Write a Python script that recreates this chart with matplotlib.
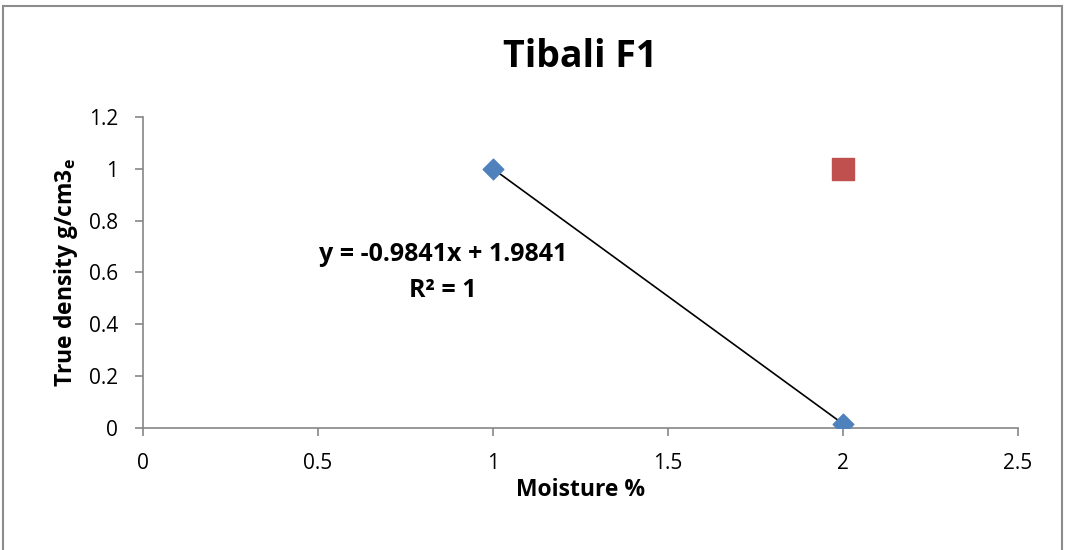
import matplotlib.pyplot as plt
from matplotlib.patches import Rectangle
import numpy as np

# data
moisture = [1, 2]
density = [1.0, 0.0159]
extra_x = [2]
extra_y = [1.0]
slope, intercept = -0.9841, 1.9841

plt.rcParams['font.family'] = ['Open Sans', 'DejaVu Sans']

fig = plt.figure(figsize=(10.65, 5.5), dpi=100)
ax = fig.add_axes([0.1343, 0.2218, 0.8216, 0.5655])

# outer chart frame
fig.patches.append(Rectangle((0.003, -0.05), 0.994, 1.04, transform=fig.transFigure,
                             fill=False, edgecolor='#8c8c8c', linewidth=1.5))

# trendline
tx = np.array([min(moisture), max(moisture)])
ax.plot(tx, slope * tx + intercept, color='black', linewidth=1.2, zorder=2)

ax.scatter(moisture, density, marker='D', s=110, color='#4F81BD', zorder=3)
ax.scatter(extra_x, extra_y, marker='s', s=260, color='#C0504D', zorder=3)

ax.set_xlim(0, 2.5)
ax.set_ylim(0, 1.2)
ax.set_xticks([0, 0.5, 1, 1.5, 2, 2.5])
ax.set_xticklabels(['0', '0.5', '1', '1.5', '2', '2.5'])
ax.set_yticks([0, 0.2, 0.4, 0.6, 0.8, 1, 1.2])
ax.set_yticklabels(['0', '0.2', '0.4', '0.6', '0.8', '1', '1.2'])

for s in ['top', 'right']:
    ax.spines[s].set_visible(False)
for s in ['left', 'bottom']:
    ax.spines[s].set_color('#868686')
    ax.spines[s].set_linewidth(1.2)
ax.tick_params(direction='out', length=6, color='#868686', labelsize=15, width=1.2)
ax.tick_params(axis='x', pad=12)
ax.tick_params(axis='y', pad=12)

ax.set_title('Tibali F1', fontsize=27, fontweight='bold', pad=36)
ax.set_xlabel('Moisture %', fontsize=16.5, fontweight='bold', labelpad=3)
ax.set_ylabel('True density g/cm3$_\\mathregular{e}$', fontsize=16.5, fontweight='bold', labelpad=6)

ax.text(0.857, 0.6, 'y = -0.9841x + 1.9841\nR² = 1', ha='center', va='center',
        fontsize=18, fontweight='bold', linespacing=1.55, transform=ax.transData)

fig.savefig('out.png', dpi=100)
